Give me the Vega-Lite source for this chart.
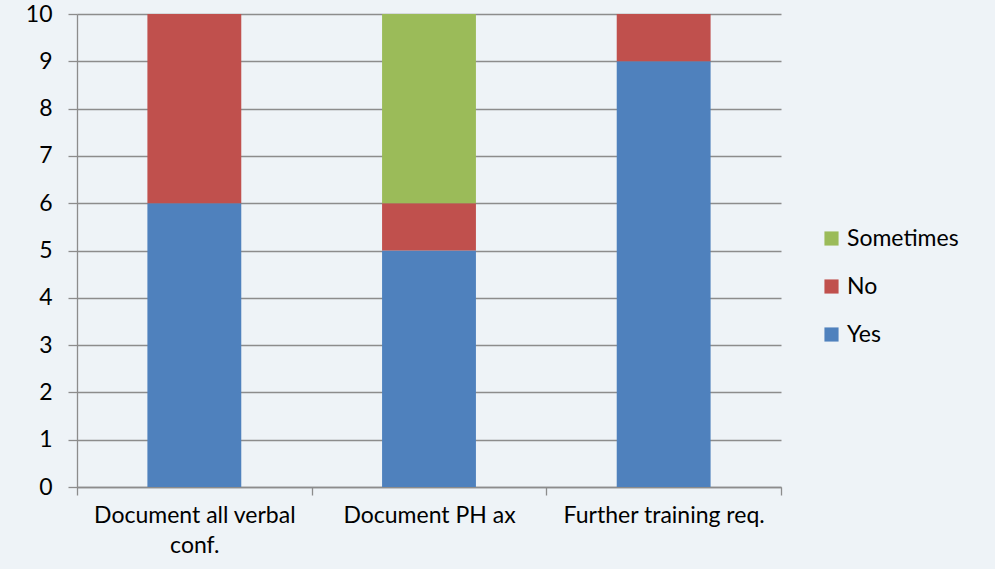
{
  "$schema": "https://vega.github.io/schema/vega-lite/v6.json",
  "width": 704,
  "height": 473,
  "autosize": {"type": "none"},
  "padding": {"left": 77, "top": 14, "right": 214, "bottom": 82},
  "background": "#EEF3F7",
  "config": {
    "view": {"stroke": null},
    "font": "Lato",
    "axis": {"labelFont": "Lato", "labelColor": "#000000", "labelFontSize": 23, "domainColor": "#8C8C8C", "tickColor": "#8C8C8C", "gridColor": "#8C8C8C", "domainWidth": 1.3, "tickWidth": 1.3, "gridWidth": 1.3}
  },
  "data": {
    "values": [
      {"item": "Document all verbal conf.", "answer": "Yes", "count": 6},
      {"item": "Document all verbal conf.", "answer": "No", "count": 4},
      {"item": "Document PH ax", "answer": "Yes", "count": 5},
      {"item": "Document PH ax", "answer": "No", "count": 1},
      {"item": "Document PH ax", "answer": "Sometimes", "count": 4},
      {"item": "Further training req.", "answer": "Yes", "count": 9},
      {"item": "Further training req.", "answer": "No", "count": 1}
    ]
  },
  "transform": [
    {"calculate": "indexof(['Yes','No','Sometimes'], datum.answer)", "as": "stackOrder"}
  ],
  "mark": {"type": "bar", "width": {"band": 0.4}},
  "encoding": {
    "x": {
      "field": "item",
      "type": "nominal",
      "sort": null,
      "title": null,
      "scale": {"paddingInner": 0, "paddingOuter": 0},
      "axis": {
        "labelAngle": 0,
        "tickBand": "extent",
        "tickSize": 8,
        "labelPadding": 9,
        "labelLimit": 0,
        "labelLineHeight": 30,
        "labelBaseline": "top",
        "labelExpr": "datum.value == 'Document all verbal conf.' ? ['Document all verbal', 'conf.'] : datum.value"
      }
    },
    "y": {
      "field": "count",
      "type": "quantitative",
      "stack": "zero",
      "title": null,
      "scale": {"domain": [0, 10], "nice": false},
      "axis": {"values": [0,1,2,3,4,5,6,7,8,9,10], "tickSize": 9, "labelPadding": 16, "grid": true}
    },
    "color": {
      "field": "answer",
      "type": "nominal",
      "scale": {"domain": ["Sometimes", "No", "Yes"], "range": ["#9BBB59", "#C0504D", "#4F81BD"]},
      "legend": {
        "title": null,
        "orient": "none",
        "legendX": 743,
        "legendY": 213,
        "symbolType": "square",
        "symbolSize": 200,
        "symbolStrokeWidth": 0,
        "labelFontSize": 23,
        "labelFont": "Lato",
        "labelColor": "#000000",
        "rowPadding": 24,
        "labelOffset": 4
      }
    },
    "order": {"field": "stackOrder", "type": "quantitative"}
  }
}
